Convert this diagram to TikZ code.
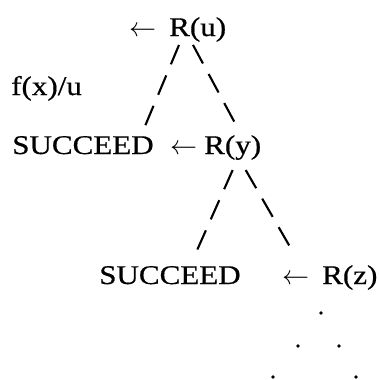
\documentclass[tikz,border=0pt]{standalone}
\usepackage{graphicx}
\usepackage{fontspec}
\setmainfont{Liberation Serif}
\newfontfamily\scanfont[FakeBold=0.5]{Liberation Serif}
\usetikzlibrary{calc}
\newcommand{\larr}{\scalebox{1.5625}{\fontsize{17.28}{20}\selectfont$\leftarrow$}}
\tikzset{
  lbl/.style={inner sep=0pt, anchor=base west, font=\fontsize{27}{32}\scanfont, xscale=1.15},
  arr/.style={inner sep=0pt, anchor=base west},
  dl/.style={line width=2.1pt, dash pattern=on 21pt off 12pt},
  dot/.style={circle, fill=black, inner sep=0pt, minimum size=3.6pt}
}
\begin{document}
\begin{tikzpicture}[x=1pt,y=-1pt]
\useasboundingbox (0,0) rectangle (379,380);
% row 1
\node[arr] (au) at (129,36) {\larr};
\node[lbl] (ru) at (169,36) {R(u)};
\node[lbl] (fx) at (11,95) {f(x)/u};
% row 2
\node[lbl] (s1) at (12,154) {SUCCEED};
\node[arr] (ay) at (170,154) {\larr};
\node[lbl] (ry) at (204,154) {R(y)};
% row 3
\node[lbl] (s2) at (99,284) {SUCCEED};
\node[arr] (az) at (282,284) {\larr};
\node[lbl] (rz) at (322,284) {R(z)};
% dots
\node[dot] (d1) at (321,313) {};
\node[dot] (d2) at (298,346) {};
\node[dot] (d3) at (339,346) {};
\node[dot] (d4) at (273,377) {};
\node[dot] (d5) at (356,377) {};
% connectors
\draw[dl] ($(ru.south west)+(10,3)$) -- ($(s1.north east)+(-10.5,-6)$);
\draw[dl] ($(ru.south west)+(24,3)$) -- ($(ry.north)+(5,-7)$);
\draw[dl] ($(ry.south)+(0,10)$) -- ($(s2.north)+(25,-11)$);
\draw[dl] ($(ry.south)+(13,10)$) -- ($(rz.north west)+(-29,-13)$);
\end{tikzpicture}
\end{document}
